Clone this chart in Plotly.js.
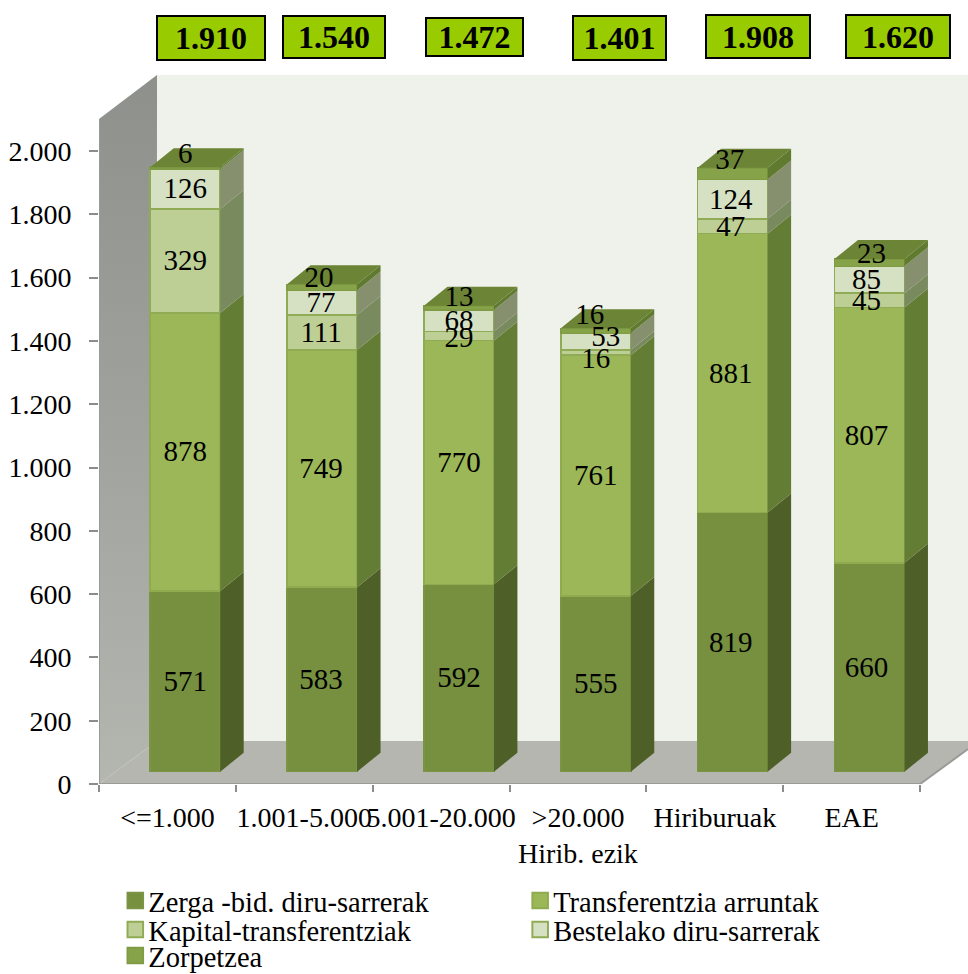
<!DOCTYPE html>
<html><head><meta charset="utf-8">
<script src="https://cdn.plot.ly/plotly-3.0.0.min.js"></script>
<style>html,body{margin:0;padding:0;background:#fff}</style></head>
<body><div id="chart" style="width:968px;height:974px"></div>
<script>
// ---------- data ----------
const categories = ['<=1.000','1.001-5.000','5.001-20.000','>20.000<br>Hirib. ezik','Hiriburuak','EAE'];
const zerga      = [571,583,592,555,819,660];
const transf     = [878,749,770,761,881,807];
const kapital    = [329,111,29,16,47,45];
const bestelako  = [126,77,68,53,124,85];
const zorpetzea  = [6,20,13,16,37,23];
const totals     = ['1.910','1.540','1.472','1.401','1.908','1.620'];
const yTicks     = [0,200,400,600,800,1000,1200,1400,1600,1800,2000];
const yTickText  = ['0','200','400','600','800','1.000','1.200','1.400','1.600','1.800','2.000'];
const seriesNames = ['Zerga -bid. diru-sarrerak','Transferentzia arruntak','Kapital-transferentziak','Bestelako diru-sarrerak','Zorpetzea'];

// ---------- geometry of the pseudo-3D scene ----------
const series = [zerga,transf,kapital,bestelako,zorpetzea];
const FONT='"Liberation Serif",serif';
const W=968,H=974,L=98.7,B=190,plotH=H-B,plotW=W-L;
const pxX=136.9, pxY=0.3165;              // px per category, px per value
const xMax=plotW/pxX-0.5, yMax=plotH/pxY;
const barW=70/pxX, dx=23.5/pxX, dy=19/pxY;
const liftY=12.3/pxY, shiftX=17.8/pxX;    // bars sit forward-shifted on the floor
const front=['#76903F','#9BB757','#BDCF95','#D6E1C4','#86A34A'];
const edge =['#7A9444','#8FAB50','#8FAB55','#8FAB55','#7F9C45'];
const side =['#4E6028','#647D35','#7A8A5F','#86906F','#607A30'];
const topColor='#6C8435';
const idx=categories.map((_,i)=>i);

const traces=[];
// scene on the main axes: drawn below the overlay with the bars
const poly=(xs,ys,c,extra)=>Object.assign({x:xs,y:ys,mode:'lines',fill:'toself',fillcolor:c,line:{width:0,color:c},
   hoverinfo:'skip',showlegend:false,xaxis:'x',yaxis:'y'},extra||{});
const wallX=58/pxX-0.5, wallFloor=43/pxY, wallTop=709/pxY, wallFront=665/pxY;
traces.push(poly([wallX,xMax,xMax,wallX,wallX],[wallFloor,wallFloor,wallTop,wallTop,wallFloor],'#EEF2EB'));
traces.push(poly([-0.5,wallX,wallX,-0.5,-0.5],[0,wallFloor,wallTop,wallFront,0],'#9A9C98',
   {fillgradient:{type:'vertical',colorscale:[[0,'#B4B7B0'],[0.5,'#A0A29E'],[1,'#8E908C']]}}));
traces.push(poly([-0.5,wallX,xMax,xMax,5.5,-0.5],[0,wallFloor,wallFloor,35/pxY,0,0],'#B4B6AF'));
traces.push({x:[-0.5,-0.5,5.5,xMax],y:[wallFront,0,0,35/pxY],mode:'lines',line:{color:'#9A9B96',width:2},hoverinfo:'skip',showlegend:false,xaxis:'x',yaxis:'y'});

// stacked bars through the library, on the overlay axes
series.forEach((v,s)=>traces.push({type:'bar',name:seriesNames[s],x:idx,y:v,width:barW,
   marker:{color:front[s],line:{color:edge[s],width:1.5}},xaxis:'x2',yaxis:'y2',
   legend:s===0?'legend':'legend'+(s+1),hoverinfo:'name+y'}));

// side faces and top caps derived from the same values
const cum=idx.map(()=>0);
series.forEach((v,s)=>{
  const xs=[],ys=[];
  idx.forEach(i=>{
    const r=i+barW/2,a=cum[i],b=a+v[i];
    xs.push(r,r+dx,r+dx,r,r,null);ys.push(a,a+dy,b+dy,b,a,null);
    cum[i]=b;
  });
  traces.push(poly(xs,ys,side[s],{xaxis:'x2',yaxis:'y2'}));
});
{
  const xs=[],ys=[];
  idx.forEach(i=>{const l=i-barW/2,r=i+barW/2,t=cum[i];
    xs.push(l,l+dx,r+dx,r,l,null);ys.push(t,t+dy,t+dy,t,t,null);});
  traces.push(poly(xs,ys,topColor,{xaxis:'x2',yaxis:'y2'}));
}

// value labels: centred in the segment, with the hand placement of the original
const liftPx=[[0,0,0,0,15],[0,0,0,0,10],[0,0,-2,0,11],[0,0,-6,5,16],[0,0,0,0,14],[0,0,0,0,9.5]];
const nudgePx=[[0,0,0,0,0],[-1,-1,-1,-1,-3],[0,0,0,0,0],[0,0,0,10,-6],[-2,-2,-2,-2,-3],[-3,-3,-3,-3,2]];
const textDrop=2.2;
const base=idx.map(()=>0);
const lx=[],ly=[],lt=[];
series.forEach((v,s)=>idx.forEach(i=>{
  lx.push(i+nudgePx[i][s]/pxX);
  ly.push(base[i]+v[i]/2+(liftPx[i][s]-textDrop)/pxY);
  lt.push(String(v[i]));
  base[i]+=v[i];
}));
traces.push({x:lx,y:ly,text:lt,mode:'text',textposition:'middle center',
  textfont:{family:FONT,size:29,color:'#000'},hoverinfo:'skip',showlegend:false,xaxis:'x2',yaxis:'y2'});

// total boxes
const boxes=[[156,266,15,61],[282,386,15,59],[425,524,17,57],[572,667,15,61],[705,811,14,59],[845,951,14,59]];
const annotations=totals.map((t,i)=>{const b=boxes[i];return {
  text:'<b>'+t+'</b>',xref:'paper',yref:'paper',x:(b[0]-L)/plotW,y:1-b[2]/plotH,xanchor:'left',yanchor:'top',
  width:b[1]-b[0]-6,height:b[3]-b[2]-6,showarrow:false,align:'center',bgcolor:'#99CC00',bordercolor:'#000',borderwidth:2,
  font:{family:FONT,size:32,color:'#000'}}});

// one small legend per item so the two-column layout can be kept
const legendPos=[[108,901],[513,901],[108,930],[513,930],[108,956]];
const layout={
  width:W,height:H,margin:{l:L,r:0,t:0,b:B,pad:0,autoexpand:false},paper_bgcolor:'#fff',plot_bgcolor:'rgba(0,0,0,0)',
  barmode:'stack',showlegend:true,annotations,
  font:{family:FONT,size:28,color:'#000'},
  xaxis:{range:[-0.5,xMax],tickmode:'array',tickvals:idx,ticktext:categories,ticks:'',showgrid:false,zeroline:false,showline:false,
     tickangle:0,tickfont:{family:FONT,size:28,color:'#000'},ticklabelstandoff:14,automargin:false,
     minor:{tickmode:'array',tickvals:[-0.5,0.5,1.5,2.5,3.5,4.5,5.5],ticks:'outside',ticklen:7,tickwidth:2,tickcolor:'#8C8C8C',showgrid:false}},
  yaxis:{range:[0,yMax],tickmode:'array',tickvals:yTicks,ticktext:yTickText,ticks:'outside',ticklen:9,tickwidth:2,tickcolor:'#8C8C8C',
     showgrid:false,zeroline:false,showline:false,tickfont:{family:FONT,size:28,color:'#000'},ticklabelstandoff:12,automargin:false},
  xaxis2:{overlaying:'x',anchor:'y2',range:[-0.5-shiftX,xMax-shiftX],visible:false},
  yaxis2:{overlaying:'y',anchor:'x2',range:[-liftY,yMax-liftY],visible:false}
};
legendPos.forEach((p,i)=>{
  layout[i===0?'legend':'legend'+(i+1)]={x:(p[0]-L)/plotW,y:1-p[1]/plotH,xanchor:'left',yanchor:'middle',bgcolor:'rgba(0,0,0,0)',
    borderwidth:0,font:{family:FONT,size:28.5,color:'#000'},itemwidth:30};
});
Plotly.newPlot('chart',traces,layout,{displayModeBar:false,staticPlot:true}).then(()=>{
  // the original's legend swatches are larger and sit closer to their text
  document.querySelectorAll('.legendpoints path').forEach(p=>p.setAttribute('transform','translate(27,0) scale(1.3)'));
});
</script></body></html>
